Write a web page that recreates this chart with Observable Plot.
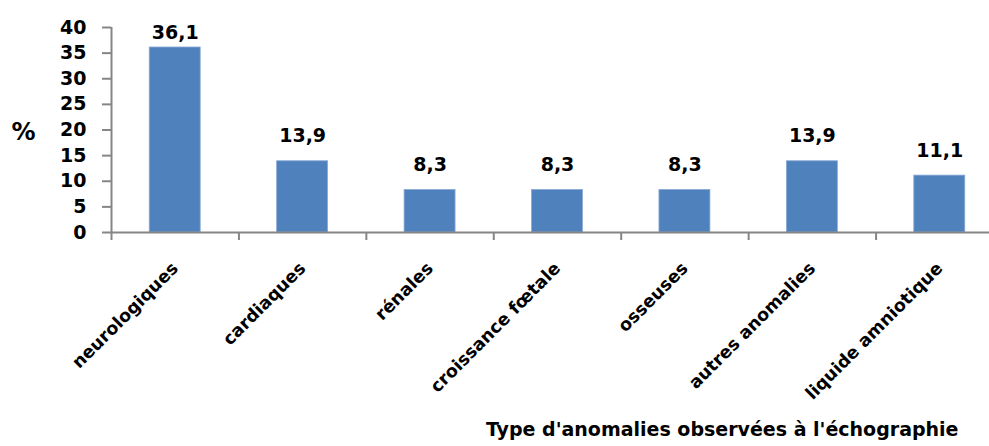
<!DOCTYPE html>
<html>
<head>
<meta charset="utf-8">
<script src="https://cdn.jsdelivr.net/npm/d3@7"></script>
<script src="https://cdn.jsdelivr.net/npm/@observablehq/plot@0.6"></script>
<style>
  html, body { margin: 0; padding: 0; background: #fff; overflow: hidden; }
</style>
</head>
<body>
<div id="chart"></div>
<script>
// Anomalies observed on ultrasound, share of cases (%)
const categories = [
  "neurologiques",
  "cardiaques",
  "rénales",
  "croissance fœtale",
  "osseuses",
  "autres anomalies",
  "liquide amniotique"
];
const values = [36.1, 13.9, 8.3, 8.3, 8.3, 13.9, 11.1];
const yTicks = [0, 5, 10, 15, 20, 25, 30, 35, 40];
const yAxisTitle = "%";
const xAxisTitle = "Type d'anomalies observées à l'échographie";

const rows = categories.map((category, index) => ({category, index, value: values[index]}));
const fmt = v => v.toFixed(1).replace(".", ",");

const axisColor = "#868686";
const barColor = "#4f81bd";
const yMax = 40;

const chart = Plot.plot({
  width: 989,
  height: 446,
  marginTop: 27,
  marginBottom: 214,
  marginLeft: 111,
  marginRight: 0,
  style: {
    fontFamily: "'DejaVu Sans', sans-serif",
    fontWeight: "bold",
    fontSize: "19px",
    color: "#000",
    background: "#fff",
    overflow: "hidden"
  },
  x: {domain: [0, categories.length], range: [111, 1003]},
  y: {domain: [0, yMax]},
  marks: [
    // bars, each occupying the middle 40% of its category slot
    Plot.rectY(rows, {
      x1: d => d.index + 0.3,
      x2: d => d.index + 0.7,
      y1: 0,
      y2: "value",
      fill: barColor,
      stroke: "#8aaad6",
      strokeWidth: 0.8
    }),
    // value labels above bars, kept inside the plot area
    Plot.text(rows, {
      x: d => d.index + 0.5,
      y: d => Math.min(d.value, yMax - 5.9),
      text: d => fmt(d.value),
      dy: -19,
      lineAnchor: "bottom",
      fontSize: 19
    }),
    // y axis
    Plot.axisY({
      ticks: yTicks,
      tickSize: 9,
      tickPadding: 16,
      tickFormat: d => String(d),
      stroke: axisColor,
      strokeWidth: 2,
      fill: "#000",
      label: null
    }),
    Plot.ruleX([0], {stroke: axisColor, strokeWidth: 2}),
    // x axis: tick marks between categories
    Plot.axisX({
      ticks: d3.range(0, categories.length + 1),
      tickSize: 8,
      tickFormat: () => "",
      stroke: axisColor,
      strokeWidth: 2,
      label: null
    }),
    // x axis: rotated category names
    Plot.axisX({
      ticks: categories.map((c, i) => i + 0.5),
      tickSize: 0,
      tickPadding: 33,
      tickRotate: -45,
      tickFormat: d => categories[Math.floor(d)],
      fill: "#000",
      fontSize: 17.5,
      label: null
    }),
    Plot.ruleY([0], {stroke: axisColor, strokeWidth: 2}),
    // axis titles
    Plot.text([yAxisTitle], {
      frameAnchor: "left",
      text: d => d,
      dx: -88,
      dy: 2,
      textAnchor: "middle",
      fontSize: 24
    }),
    Plot.text([xAxisTitle], {
      frameAnchor: "bottom-right",
      text: d => d,
      dx: -31,
      dy: 197,
      textAnchor: "end",
      lineAnchor: "middle",
      fontSize: 19
    })
  ]
});

document.getElementById("chart").appendChild(chart);
</script>
</body>
</html>
